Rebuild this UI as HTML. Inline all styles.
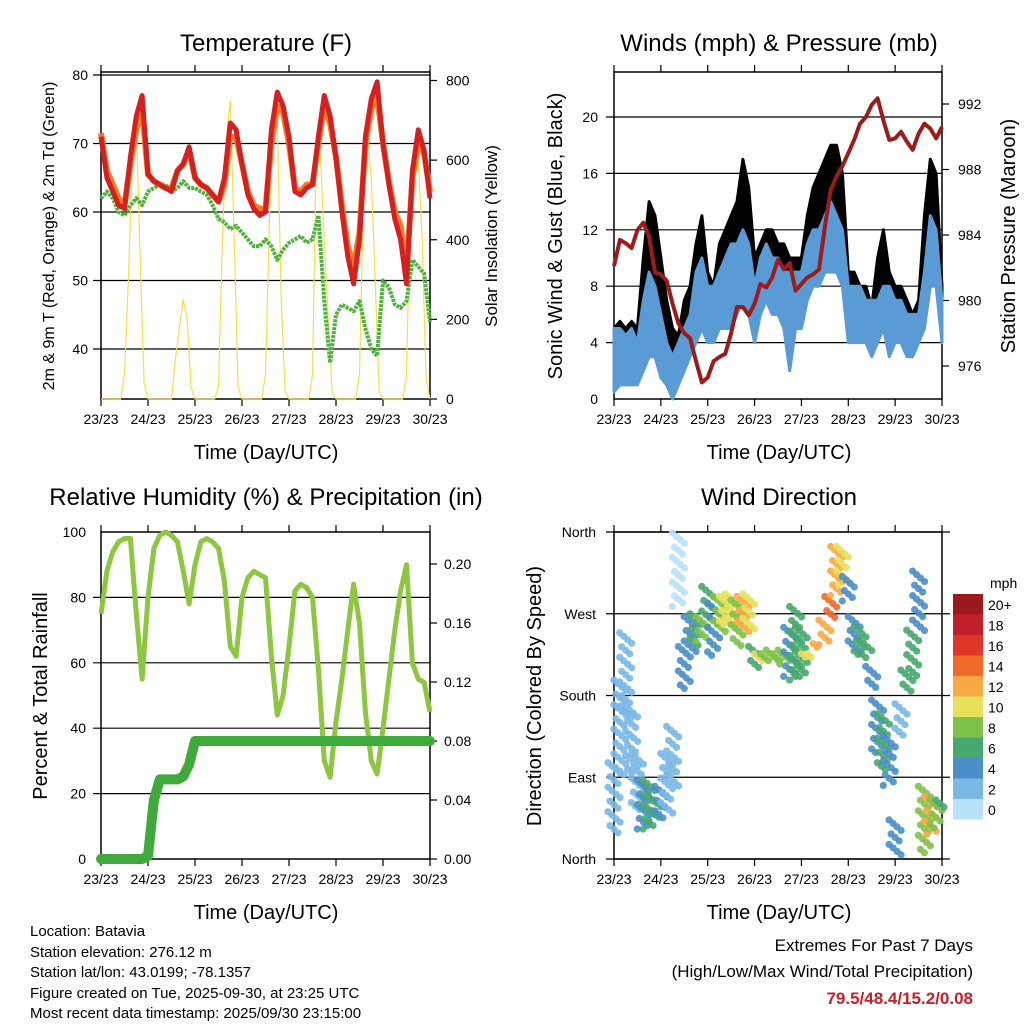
<!DOCTYPE html>
<html><head><meta charset="utf-8"><style>
body{margin:0;background:#fff}
svg{display:block;font-family:"Liberation Sans",sans-serif}
</style></head><body>
<svg id="root" xmlns="http://www.w3.org/2000/svg" width="1024" height="1024" viewBox="0 0 1024 1024">
<rect width="1024" height="1024" fill="#fff"/>
<g id="g1"></g>
<g id="g2"></g>
<g id="g3"></g>
<g id="g4"></g>
<g font-size="24" text-anchor="middle">
<text x="266" y="51">Temperature (F)</text>
<text x="779" y="51">Winds (mph) &amp; Pressure (mb)</text>
<text x="266" y="505">Relative Humidity (%) &amp; Precipitation (in)</text>
<text x="779" y="505">Wind Direction</text>
</g>
<g font-size="20" text-anchor="middle">
<text x="266" y="459">Time (Day/UTC)</text>
<text x="779" y="459">Time (Day/UTC)</text>
<text x="266" y="919">Time (Day/UTC)</text>
<text x="779" y="919">Time (Day/UTC)</text>
</g>
<g text-anchor="middle">
<text transform="translate(54,236) rotate(-90)" font-size="16">2m &amp; 9m T (Red, Orange) &amp; 2m Td (Green)</text>
<text transform="translate(497,236) rotate(-90)" font-size="17">Solar Insolation (Yellow)</text>
<text transform="translate(562,236) rotate(-90)" font-size="20">Sonic Wind &amp; Gust (Blue, Black)</text>
<text transform="translate(1015,236) rotate(-90)" font-size="20">Station Pressure (Maroon)</text>
<text transform="translate(47,696) rotate(-90)" font-size="20">Percent &amp; Total Rainfall</text>
<text transform="translate(541,696) rotate(-90)" font-size="20">Direction (Colored By Speed)</text>
</g>
<g font-size="15">
<text x="30" y="936">Location: Batavia</text>
<text x="30" y="957">Station elevation: 276.12 m</text>
<text x="30" y="977">Station lat/lon: 43.0199; -78.1357</text>
<text x="30" y="998">Figure created on Tue, 2025-09-30, at 23:25 UTC</text>
<text x="30" y="1018">Most recent data timestamp: 2025/09/30 23:15:00</text>
</g>
<g text-anchor="end">
<text x="973" y="951" font-size="17">Extremes For Past 7 Days</text>
<text x="973" y="977" font-size="17">(High/Low/Max Wind/Total Precipitation)</text>
<text x="973" y="1004" font-size="17" font-weight="bold" fill="#c8202a">79.5/48.4/15.2/0.08</text>
</g>
</svg>
<script>
// time step between samples (hours)
const STEP = 3;
const dayLabels = ["23/23","24/23","25/23","26/23","27/23","28/23","29/23","30/23"];
const temp2m = [71,65,63,61,60.5,68,74,77,65.5,64.5,64,63.5,63,66,67,69.5,65,64,63.5,62.5,61.5,65,73,72,67,62.5,60.5,59.5,60,72,77.5,75.5,71,63,62.5,63.5,64,71,77,74,68,60,53.5,49.5,56,71,76.5,79,70,64,59,56,49.5,66,72,69,62];
const temp9m = [71.5,66,64,62,61,67,72,75,65.5,64.5,64,63.5,63.5,66,67,69,65,64,63.5,62.5,61.5,64,71,71,67,63,61,60.5,60.5,70,75.5,74.5,70,63.5,63,64,64,70,75.5,73,68,61,55,52,57,70,75,77,70,64.5,60,58,51,65,70,68.5,63];
const dewpoint = [62,63,62,60,59.5,61,62,61,63,63.5,64,64,63,63.5,64.5,63.5,63.5,63,62.5,61,59,58.5,57.5,58,57,56,55,55,56,55,53,54.5,55.5,56,56.5,55.5,56,59.5,47,38,45,46.5,46,45.5,47,43,40,39,50,49,46.5,46,47,53,52,51,44];
// solar insolation every 2 h
const SOLAR_STEP = 2;
const solar = [0,0,0,0,0,0,60,300,600,700,350,40,0,0,0,0,0,0,0,100,180,250,200,30,0,0,0,0,0,0,30,400,650,750,400,30,0,0,0,0,0,0,60,450,750,700,250,20,0,0,0,0,0,0,60,650,620,400,200,20,0,0,0,0,0,0,60,500,680,550,300,20,0,0,0,0,0,0,60,500,620,600,400,50,0];
const windLo = [0.5,1,1,1,1,2,3,3,1.5,1,0,1,2,3,4,5,4,4,5,5,5,6,7,6,4,6,7,6,6,5,2,5,5,7,8,8,9,9,9,8,4,4,4,4,3,4,5,3,4,4,3,3,4,5,8,8,4];
const windHi = [5,5,4.5,5,4,7,9,8,6,4,3,4,5,6,9,10,8,8,9,10,11,11,12,11,8,10,11,10,10,9,9,9,9,11,12,12,13,14,13,12,8,8,8,7,7,7,8,8,7,7,6,6,6,9,13,12,7];
const gustHi = [5,5.5,5,5.5,5,10,14,13,10,7,5,4.5,7,8,11,13,9,8,11,12,13,14,17,15,10,11,12,12,11,11,10,10,10,13,15,16,17,18,18,16,9,9,8,8,6.5,10,12,9,8,8,7,6,7,13,17,16,8];
const pressure = [982.1,983.7,983.5,983.2,984.3,984.75,983.9,981.7,981.6,981.2,979.8,978.6,978,977.7,976.3,975,975.3,976.3,976.55,976.75,978,979.6,979.6,979.1,979.8,981,980.8,981.4,982.5,981.9,982.3,980.6,981,981.4,981.6,981.9,984.5,986.75,987.6,988.2,989,989.8,990.8,991.2,991.95,992.35,991,989.8,989.9,990.3,989.7,989.2,990.2,990.8,990.5,989.9,990.6];
const humidity = [75,88,94,97,98,98,75,55,80,95,99,100,99,97,88,78,90,97,98,97,95,85,65,62,80,86,88,87,86,62,44,50,65,82,84,83,80,58,30,25,42,55,70,84,72,45,30,26,40,55,70,82,90,60,55,54,45];
const rainfall = [0,0,0,0,0,0,0,0,0.002,0.04,0.054,0.054,0.054,0.054,0.056,0.064,0.08,0.08,0.08,0.08,0.08,0.08,0.08,0.08,0.08,0.08,0.08,0.08,0.08,0.08,0.08,0.08,0.08,0.08,0.08,0.08,0.08,0.08,0.08,0.08,0.08,0.08,0.08,0.08,0.08,0.08,0.08,0.08,0.08,0.08,0.08,0.08,0.08,0.08,0.08,0.08,0.08];
const dirLo = [28,91,153,94,54,32,32,39,43,50,80,278,186,227,234,238,263,223,250,255,252,234,250,252,208,215,215,215,215,212,200,196,200,219,219,230,234,263,289,300,282,226,223,219,187,116,98,79,3,135,183,201,251,6,25,32,54];
const dirHi = [106,197,249,168,116,87,87,69,80,116,146,359,234,267,270,267,300,282,289,289,292,285,289,292,234,226,226,230,226,230,255,278,255,226,226,237,263,289,344,344,311,267,256,241,212,175,160,135,43,171,208,252,317,80,69,65,65];
const dirSpeed = [2,2,3,2,3,5,6,7,4,3,2,1,4,5,7,9,6,4,8,10,11,9,12,10,7,10,9,8,9,8,4,6,7,10,11,12,12,14,13,11,4,5,6,6,4,5,6,5,4,3,7,6,4,8,12,9,7];
const speedTicks = ["0","2","4","6","8","10","12","14","16","18","20+"];
const speedColors = ["#b8e2f8","#7ab8e6","#4a8fc8","#48a870","#7fc24a","#e6e05a","#f9a846","#f26a2a","#e0362a","#c0202a","#9b1a1c"];

const NS = "http://www.w3.org/2000/svg";
function el(tag, attrs, parent){
  const e = document.createElementNS(NS, tag);
  for (const k in attrs) e.setAttribute(k, attrs[k]);
  parent.appendChild(e);
  return e;
}
const HOURS = 168;
function xScale(x0, x1){ return h => x0 + h / HOURS * (x1 - x0); }
function lin(d0, d1, r0, r1){ return v => r0 + (v - d0) / (d1 - d0) * (r1 - r0); }
function pathOf(arr, sx, sy, step){ return arr.map((v,i)=>(i?"L":"M")+sx(i*step).toFixed(1)+","+sy(v).toFixed(1)).join(""); }

function frame(g, x0, x1, y0, y1, gridVals, gy, gridX0, gridX1){
  gridVals.forEach(v=>{
    const l = el("line",{x1:gridX0,x2:gridX1,y1:gy(v),y2:gy(v),stroke:"#000","stroke-width":1.2},g);
    
    
  });
  const r = el("rect",{x:x0,y:y0,width:x1-x0,height:y1-y0,fill:"none",stroke:"#000","stroke-width":1.5},g);
  
  
  const sx = xScale(x0,x1);
  dayLabels.forEach((d,i)=>{
    const x = sx(i*24);
    el("line",{x1:x,x2:x,y1:y1,y2:y1+7,stroke:"#000","stroke-width":1.2},g);
    el("line",{x1:x,x2:x,y1:y0,y2:y0-7,stroke:"#000","stroke-width":1.2},g);
    const t = el("text",{x:x,y:y1+25,"font-size":14,"text-anchor":"middle"},g);
    t.textContent = d;
    
    
  });
}
function yLabels(g, vals, labels, sy, x, anchor, tickX0, tickX1){
  vals.forEach((v,i)=>{
    if (tickX0 !== undefined) el("line",{x1:tickX0,x2:tickX1,y1:sy(v),y2:sy(v),stroke:"#000","stroke-width":1.2},g);
    const t = el("text",{x:x,y:sy(v)+5,"font-size":14,"text-anchor":anchor},g);
    t.textContent = labels[i];
    
    
  });
}

// Panel 1: Temperature
(function(){
  const g = document.getElementById("g1");
  const x0=101,x1=430,y0=72,y1=399;
  const sx = xScale(x0,x1);
  const sy = lin(40,80,349,75);
  const ss = lin(0,800,399,80.5);
  frame(g,x0,x1,y0,y1,[40,50,60,70,80],sy,93,430);
  yLabels(g,[40,50,60,70,80],["40","50","60","70","80"],sy,88,"end");
  yLabels(g,[0,200,400,600,800],["0","200","400","600","800"],ss,446,"start",430,437);
  const sol = el("path",{d:pathOf(solar,sx,ss,SOLAR_STEP),fill:"none",stroke:"#f7df4a","stroke-width":1.2},g);
  
  
  const dp = el("path",{d:pathOf(dewpoint,sx,sy,STEP),fill:"none",stroke:"#4db33d","stroke-width":4,"stroke-dasharray":"3 1","stroke-linejoin":"round"},g);
  
  
  const t9 = el("path",{d:pathOf(temp9m,sx,sy,STEP),fill:"none",stroke:"#f07a28","stroke-width":6,"stroke-linejoin":"round"},g);
  
  
  const t2 = el("path",{d:pathOf(temp2m,sx,sy,STEP),fill:"none",stroke:"#d42020","stroke-width":5,"stroke-linejoin":"round"},g);
  
  
})();

// Panel 2: Winds & pressure
(function(){
  const g = document.getElementById("g2");
  const x0=614,x1=942,y0=72,y1=399;
  const sx = xScale(x0,x1);
  const sy = lin(0,20,399,117);
  const sp = lin(976,992,366,104);
  frame(g,x0,x1,y0,y1,[4,8,12,16,20],sy,606,942);
  yLabels(g,[0,4,8,12,16,20],["0","4","8","12","16","20"],sy,598,"end");
  yLabels(g,[976,980,984,988,992],["976","980","984","988","992"],sp,958,"start",942,949);
  let top = gustHi.map((v,i)=>sx(i*STEP).toFixed(1)+","+sy(v).toFixed(1));
  let bot = windHi.map((v,i)=>sx(i*STEP).toFixed(1)+","+sy(Math.max(0,v-2)).toFixed(1)).reverse();
  const gust = el("polygon",{points:top.concat(bot).join(" "),fill:"#000",stroke:"#000","stroke-width":3,"stroke-linejoin":"round"},g);
  
  
  top = windHi.map((v,i)=>sx(i*STEP).toFixed(1)+","+sy(v).toFixed(1));
  bot = windLo.map((v,i)=>sx(i*STEP).toFixed(1)+","+sy(v).toFixed(1)).reverse();
  const wind = el("polygon",{points:top.concat(bot).join(" "),fill:"#5b9bd5",stroke:"#5b9bd5","stroke-width":3,"stroke-linejoin":"round"},g);
  
  
  const pr = el("path",{d:pathOf(pressure,sx,sp,STEP),fill:"none",stroke:"#9b1c1c","stroke-width":4,"stroke-linejoin":"round"},g);
  
  
})();

// Panel 3: RH & precip
(function(){
  const g = document.getElementById("g3");
  const x0=101,x1=430,y0=532,y1=859;
  const sx = xScale(x0,x1);
  const sy = lin(0,100,859,532);
  const sr = lin(0,0.2,859,564);
  frame(g,x0,x1,y0,y1,[20,40,60,80],sy,93,430);
  yLabels(g,[0,20,40,60,80,100],["0","20","40","60","80","100"],sy,86,"end");
  yLabels(g,[0,0.04,0.08,0.12,0.16,0.2],["0.00","0.04","0.08","0.12","0.16","0.20"],sr,444,"start",430,437);
  const rh = el("path",{d:pathOf(humidity,sx,sy,STEP),fill:"none",stroke:"#8dc63f","stroke-width":5,"stroke-linejoin":"round"},g);
  
  
  const pc = el("path",{d:pathOf(rainfall,sx,sr,STEP),fill:"none",stroke:"#3daa3a","stroke-width":10,"stroke-linejoin":"round","stroke-linecap":"round"},g);
  
  
})();

// Panel 4: wind direction
(function(){
  const g = document.getElementById("g4");
  const x0=614,x1=942,y0=532,y1=859;
  const sx = xScale(x0,x1);
  const sy = lin(0,360,859,532);
  frame(g,x0,x1,y0,y1,[0,90,180,270,360],sy,606,950);
  yLabels(g,[0,90,180,270,360],["North","East","South","West","North"],sy,596,"end");
  const offs = [-6,-2,2,6,-4,0,4];
  dirLo.forEach((lo,i)=>{
    const hi = dirHi[i];
    const col = speedColors[Math.min(10,Math.floor(dirSpeed[i]/2))];
    const x = sx(i*STEP);
    const yA = sy(hi), yB = sy(lo);
    let k = 0;
    for (let y=yA; y<=yB+0.1; y+=3.5){
      const c = el("circle",{cx:(x+offs[k%offs.length]).toFixed(1),cy:y.toFixed(1),r:3.6,fill:col,"fill-opacity":0.9},g);
      
      
      k++;
    }
  });
  const cb = el("g",{},g);
  
  
  const mph = el("text",{x:990,y:588,"font-size":14},cb);
  mph.textContent = "mph";
  speedTicks.forEach((lab,i)=>{
    const j = 10 - i;
    const y = 594 + j*20.5;
    const r = el("rect",{x:953,y:y,width:30,height:20.5,fill:speedColors[i]},cb);
    
    
    const t = el("text",{x:988,y:y+16,"font-size":14},cb);
    t.textContent = lab;
    
    
  });
})();
</script>
</body></html>
